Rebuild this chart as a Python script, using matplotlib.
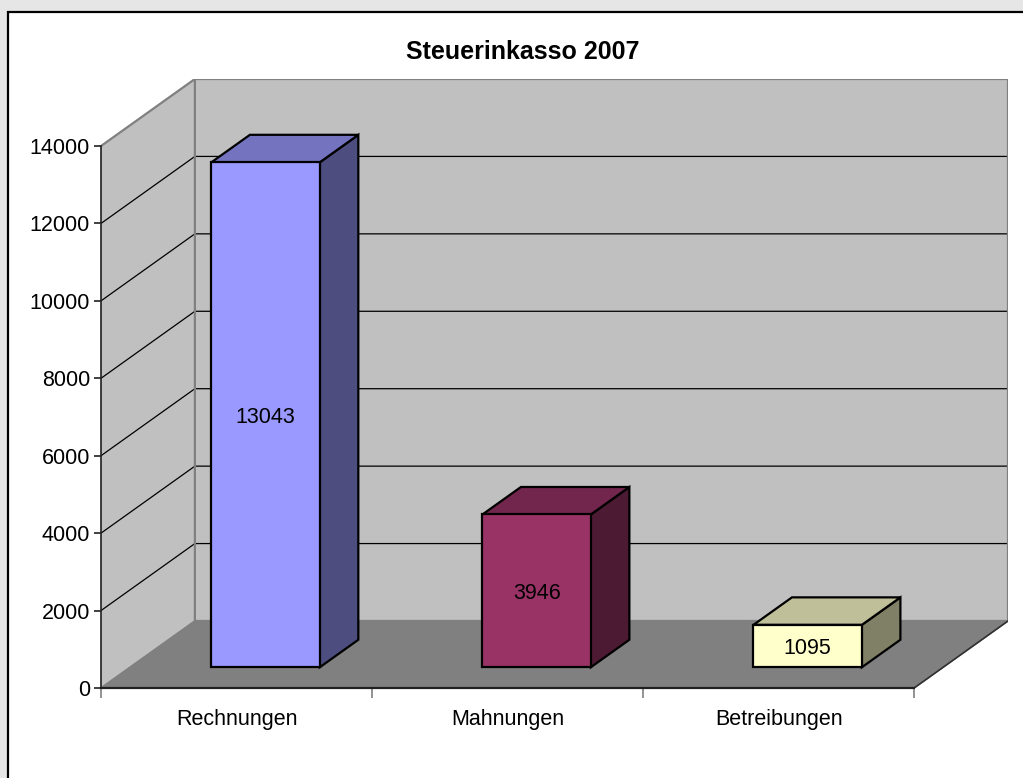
import matplotlib
matplotlib.use('Agg')
import matplotlib.pyplot as plt
from matplotlib.patches import Polygon, Rectangle

plt.rcParams['font.family'] = ['Liberation Sans', 'DejaVu Sans']

# Daten
kategorien = ['Rechnungen', 'Mahnungen', 'Betreibungen']
werte = [13043, 3946, 1095]
farben_front = ['#9999ff', '#993366', '#ffffcc']
y_ticks = [0, 2000, 4000, 6000, 8000, 10000, 12000, 14000]
titel = 'Steuerinkasso 2007'

# 3D-Schraegprojektion (Tiefe in Dateneinheiten)
Y_MAX = 14000
N = len(kategorien)
DX = 0.3464      # Tiefe in x-Richtung (Kategorien)
DY = 1731.0      # Tiefe in y-Richtung (Werte)
T0, T1 = 0.31, 0.72   # Saeulen-Tiefe vorne/hinten
HALB = 0.2            # halbe Saeulenbreite


def shade(col, f):
    r, g, b = matplotlib.colors.to_rgb(col)
    return (r * f, g * f, b * f)


def pt(x, y, t):
    return (x + t * DX, y + t * DY)


fig = plt.figure(figsize=(10.23, 7.78), dpi=100)
fig.patch.set_facecolor('#e6e6e6')
# weisser Diagrammbereich
fig.patches.append(Rectangle((8 / 1023, -0.1), 1.2, 1 - 12 / 778 + 0.1, transform=fig.transFigure,
                             facecolor='white', edgecolor='black', linewidth=1.6, zorder=0))

ax = fig.add_axes([101 / 1023, 90 / 778, 907 / 1023, 609 / 778])
ax.set_zorder(1)
ax.set_xlim(0, N + DX)
ax.set_ylim(0, Y_MAX + DY)
ax.patch.set_visible(False)

# Waende und Boden
wand = '#c0c0c0'
rand = '#808080'
ax.add_patch(Polygon([(0, 0), (0, Y_MAX), pt(0, Y_MAX, 1), pt(0, 0, 1)],
                     facecolor=wand, edgecolor='none', zorder=1))
ax.add_patch(Polygon([pt(0, 0, 1), pt(N, 0, 1), pt(N, Y_MAX, 1), pt(0, Y_MAX, 1)],
                     facecolor=wand, edgecolor='none', zorder=1))
ax.add_patch(Polygon([(0, 0), (N, 0), pt(N, 0, 1), pt(0, 0, 1)],
                     facecolor='#808080', edgecolor='#808080', zorder=1.5))

# Gitternetzlinien
for v in y_ticks[1:-1]:
    ax.plot([0, pt(0, v, 1)[0], pt(N, v, 1)[0]], [v, v + DY, v + DY],
            color='black', linewidth=0.9, zorder=2)

# Kanten der Waende
ax.plot([0, pt(0, Y_MAX, 1)[0], pt(N, Y_MAX, 1)[0], pt(N, 0, 1)[0], pt(0, 0, 1)[0], pt(0, Y_MAX, 1)[0]],
        [Y_MAX, Y_MAX + DY, Y_MAX + DY, DY, DY, Y_MAX + DY],
        color=rand, linewidth=1.6, zorder=2.2, solid_joinstyle='miter')
ax.plot([pt(0, 0, 1)[0], 0], [DY, 0], color=rand, linewidth=1.2, zorder=2.2)
ax.plot([N, pt(N, 0, 1)[0]], [0, DY], color='#303030', linewidth=1.2, zorder=2.2)

# Saeulen
for i, (name, v, col) in enumerate(zip(kategorien, werte, farben_front)):
    c = i + 0.5
    x0, x1 = c - HALB, c + HALB
    front = [pt(x0, 0, T0), pt(x1, 0, T0), pt(x1, v, T0), pt(x0, v, T0)]
    oben = [pt(x0, v, T0), pt(x1, v, T0), pt(x1, v, T1), pt(x0, v, T1)]
    seite = [pt(x1, 0, T0), pt(x1, 0, T1), pt(x1, v, T1), pt(x1, v, T0)]
    for poly, f in [(seite, 0.5), (oben, 0.75), (front, 1.0)]:
        ax.add_patch(Polygon(poly, facecolor=shade(col, f), edgecolor='black',
                             linewidth=1.6, joinstyle='miter', zorder=5))
    tx, ty = pt(c, v / 2, T0)
    ax.text(tx, ty - 60, str(v), ha='center', va='center', fontsize=15.5, color='black', zorder=6)

# Achsen
for s in ['top', 'right']:
    ax.spines[s].set_visible(False)
ax.spines['left'].set_bounds(0, Y_MAX)
ax.spines['bottom'].set_bounds(0, N)
ax.spines['left'].set_color('#202020')
ax.spines['bottom'].set_color('#202020')
ax.spines['left'].set_linewidth(1.2)
ax.spines['bottom'].set_linewidth(1.6)
ax.spines['left'].set_zorder(3)
ax.spines['bottom'].set_zorder(3)

ax.set_yticks(y_ticks)
ax.set_yticklabels([str(t) for t in y_ticks], fontsize=15.5)
ax.tick_params(axis='y', length=5, width=1.2, color='#202020', pad=3)

ax.set_xticks(range(N + 1))
ax.set_xticklabels([])
ax.set_xticks([i + 0.5 for i in range(N)], minor=True)
ax.set_xticklabels(kategorien, minor=True, fontsize=15.5)
ax.tick_params(axis='x', which='minor', length=0, pad=15)
ax.tick_params(axis='x', which='major', length=7, width=1.2, color='#808080')

fig.text(523 / 1023, 1 - 52 / 778, titel, ha='center', va='center', fontsize=18, fontweight='bold')

plt.savefig('out.png', dpi=100, facecolor=fig.get_facecolor())
